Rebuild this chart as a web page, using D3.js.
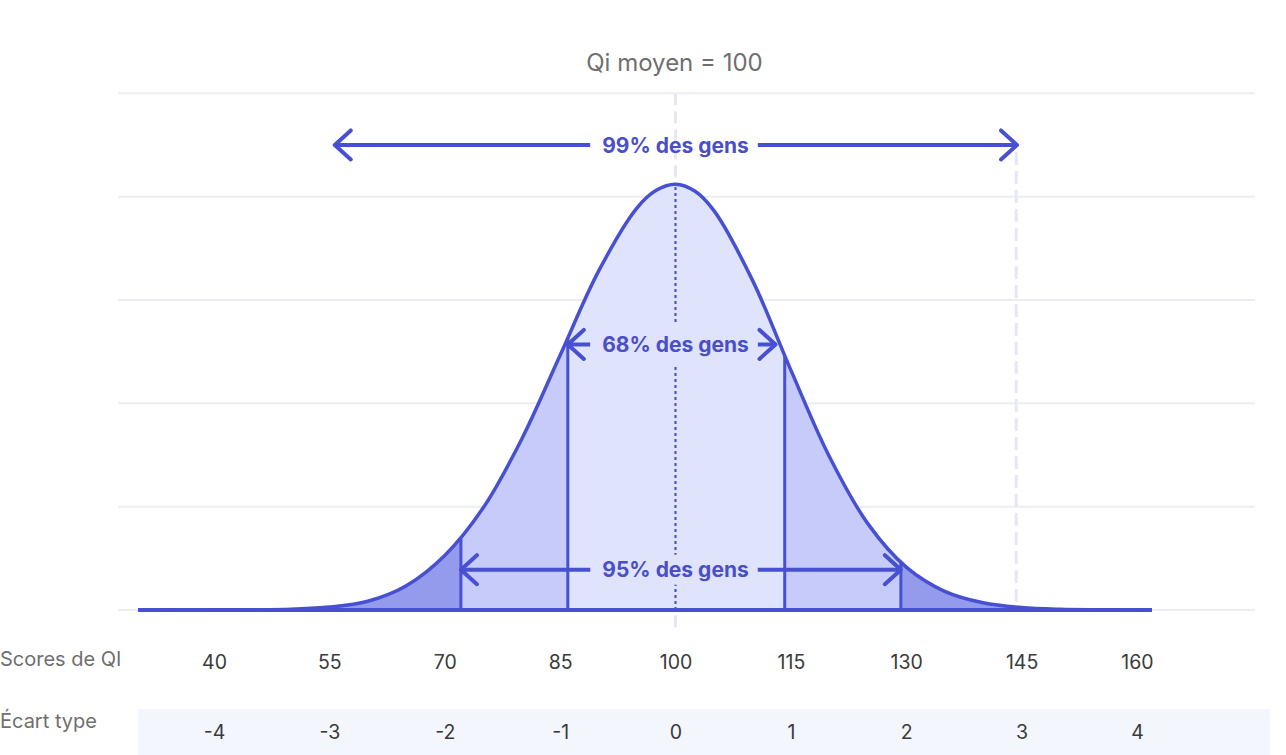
<!DOCTYPE html>
<html>
<head>
<meta charset="utf-8">
<script src="https://cdn.jsdelivr.net/npm/d3@7"></script>
<style>
  html, body { margin: 0; padding: 0; background: #ffffff; }
  svg { display: block; font-family: Inter, "Noto Sans", sans-serif; }
</style>
</head>
<body>
<svg id="chart" width="1286" height="755"></svg>
<script>
// ---------- DATA ----------
const curveIQ    = [35, 40, 45, 50, 55, 60, 65, 70, 75, 80, 85, 90, 95, 97.5, 100, 102.5, 105, 110, 115, 120, 125, 130, 135, 140, 145, 150, 155, 160];
const curveValue = [0, 0, 0.002, 0.008, 0.028, 0.085, 0.235, 0.528, 0.989, 1.653, 2.465, 3.279, 3.891, 4.061, 4.12, 4.055, 3.865, 3.192, 2.321, 1.485, 0.836, 0.415, 0.181, 0.07, 0.024, 0.007, 0.002, 0];

const iqTicks = [40, 55, 70, 85, 100, 115, 130, 145, 160];
const sdTicks = ["-4", "-3", "-2", "-1", "0", "1", "2", "3", "4"];
const gridValues = [0, 1, 2, 3, 4, 5];

const band68 = [86.0, 114.2];
const band95 = [72.1, 129.3];
const line99 = 144.3;
const meanIQ = 100;

const arrowLabels = ["99% des gens", "68% des gens", "95% des gens"];
const arrowFrom   = [55.7, 86.0, 72.1];
const arrowTo     = [144.4, 113.0, 129.3];
const arrowLevel  = [4.5, 2.57, 0.39];

const titleText = "Qi moyen = 100";
const rowLabels = ["Scores de QI", "Écart type"];

// ---------- STYLE ----------
const C = {
  stroke: "#4750d0",
  text: "#4a4fc6",
  center: "#dfe3fc",
  mid: "#c6cbfa",
  tail: "#949bec",
  grid: "#ecedf3",
  dashed: "#e6e7f6",
  band: "#f3f6fd",
  label: "#6f6f6f",
  tick: "#3a3a3a"
};

const svg = d3.select("#chart");
const x = d3.scaleLinear().domain([40, 160]).range([214, 1137]);
const y = d3.scaleLinear().domain([0, 5]).range([610, 93.3]);

const pts = curveIQ.map((q, i) => ({ q, v: curveValue[i] }));

// grid lines
svg.append("g").selectAll("line").data(gridValues).join("line")
  .attr("x1", 118).attr("x2", 1255)
  .attr("y1", d => y(d)).attr("y2", d => y(d))
  .attr("stroke", C.grid).attr("stroke-width", 2);

// bottom band for SD row
svg.append("rect").attr("x", 138).attr("y", 709).attr("width", 1132).attr("height", 46).attr("fill", C.band);

// light dashed mean line (above curve & below baseline)
svg.append("line").attr("x1", x(meanIQ)).attr("x2", x(meanIQ)).attr("y1", y(5)).attr("y2", 630)
  .attr("stroke", C.dashed).attr("stroke-width", 3).attr("stroke-dasharray", "12,6");
// 99% dashed line
svg.append("line").attr("x1", x(line99)).attr("x2", x(line99)).attr("y1", 152).attr("y2", y(0))
  .attr("stroke", C.dashed).attr("stroke-width", 3).attr("stroke-dasharray", "13,6");

const curveType = d3.curveCatmullRom.alpha(0.5);
const area = d3.area().x(d => x(d.q)).y0(y(0)).y1(d => y(d.v)).curve(curveType);
const line = d3.line().x(d => x(d.q)).y(d => y(d.v)).curve(curveType);

const defs = svg.append("defs");
defs.append("clipPath").attr("id", "areaClip").append("path").attr("d", area(pts));
defs.append("clipPath").attr("id", "midClip").append("rect")
  .attr("x", x(band95[0])).attr("width", x(band95[1]) - x(band95[0])).attr("y", 0).attr("height", 755);
defs.append("clipPath").attr("id", "centerClip").append("rect")
  .attr("x", x(band68[0])).attr("width", x(band68[1]) - x(band68[0])).attr("y", 0).attr("height", 755);

svg.append("path").attr("d", area(pts)).attr("fill", C.tail);
svg.append("path").attr("d", area(pts)).attr("fill", C.mid).attr("clip-path", "url(#midClip)");
svg.append("path").attr("d", area(pts)).attr("fill", C.center).attr("clip-path", "url(#centerClip)");

// dotted mean line inside the curve
svg.append("g").attr("clip-path", "url(#areaClip)")
  .append("line").attr("x1", x(meanIQ)).attr("x2", x(meanIQ)).attr("y1", y(0)).attr("y2", 0)
  .attr("stroke", "#5156c0").attr("stroke-width", 2.2).attr("stroke-dasharray", "3,3");

// vertical boundaries
svg.append("g").attr("clip-path", "url(#areaClip)").selectAll("line")
  .data([band95[0], band68[0], band68[1], band95[1]]).join("line")
  .attr("x1", d => x(d)).attr("x2", d => x(d)).attr("y1", y(0)).attr("y2", 0)
  .attr("stroke", C.stroke).attr("stroke-width", 3);

// baseline
svg.append("line").attr("x1", 138).attr("x2", 1152).attr("y1", y(0)).attr("y2", y(0))
  .attr("stroke", C.stroke).attr("stroke-width", 4).attr("stroke-linecap", "butt");

// curve
svg.append("path").attr("d", line(pts)).attr("fill", "none")
  .attr("stroke", C.stroke).attr("stroke-width", 3.5).attr("stroke-linejoin", "round");

// arrows
const gapPad = [{ h: 21 }, { h: 20 }, { h: 15 }];
arrowLabels.forEach((lab, i) => {
  const g = svg.append("g");
  const yy = y(arrowLevel[i]);
  const cx = x(meanIQ);
  const t = g.append("text").attr("x", cx).attr("y", yy).attr("dy", "0.36em")
    .attr("text-anchor", "middle").attr("font-size", 21).attr("font-weight", 700)
    .attr("fill", C.text).text(lab);
  const w = t.node().getComputedTextLength();
  if (i > 0) {
    g.insert("rect", "text").attr("x", cx - w / 2 - 4).attr("width", w + 8)
      .attr("y", yy - gapPad[i].h).attr("height", gapPad[i].h * 2).attr("fill", C.center);
  }
  const x0 = x(arrowFrom[i]), x1 = x(arrowTo[i]);
  const l = cx - w / 2 - 12, r = cx + w / 2 + 9;
  g.append("path").attr("d", `M${x0},${yy}L${l},${yy}M${r},${yy}L${x1},${yy}`)
    .attr("stroke", C.stroke).attr("stroke-width", 4).attr("fill", "none");
  g.append("path")
    .attr("d", `M${x0 + 16},${yy - 14.5}L${x0},${yy}L${x0 + 16},${yy + 14.5}M${x1 - 16},${yy - 14.5}L${x1},${yy}L${x1 - 16},${yy + 14.5}`)
    .attr("stroke", C.stroke).attr("stroke-width", 4).attr("fill", "none")
    .attr("stroke-linecap", "round").attr("stroke-linejoin", "round");
});

// title
svg.append("text").attr("x", x(meanIQ) - 1).attr("y", 71).attr("text-anchor", "middle")
  .attr("font-size", 24).attr("fill", C.label).text(titleText);

// axes (tick labels)
const axIQ = d3.axisBottom(x).tickValues(iqTicks).tickSize(0).tickPadding(0);
const gIQ = svg.append("g").attr("transform", "translate(0,655)").call(axIQ);
const axSD = d3.axisBottom(x).tickValues(iqTicks).tickSize(0).tickPadding(0)
  .tickFormat((d, i) => sdTicks[i]);
const gSD = svg.append("g").attr("transform", "translate(0,725)").call(axSD);
[gIQ, gSD].forEach(g => {
  g.select(".domain").remove();
  g.selectAll("text").attr("font-size", 19.5).attr("fill", C.tick)
    .attr("font-family", "Inter, 'Noto Sans', sans-serif").attr("dy", "0.72em");
});

// row labels
svg.append("text").attr("x", 0).attr("y", 666).attr("font-size", 20).attr("fill", C.label).text(rowLabels[0]);
svg.append("text").attr("x", 0).attr("y", 728).attr("font-size", 20).attr("fill", C.label).text(rowLabels[1]);
</script>
</body>
</html>
